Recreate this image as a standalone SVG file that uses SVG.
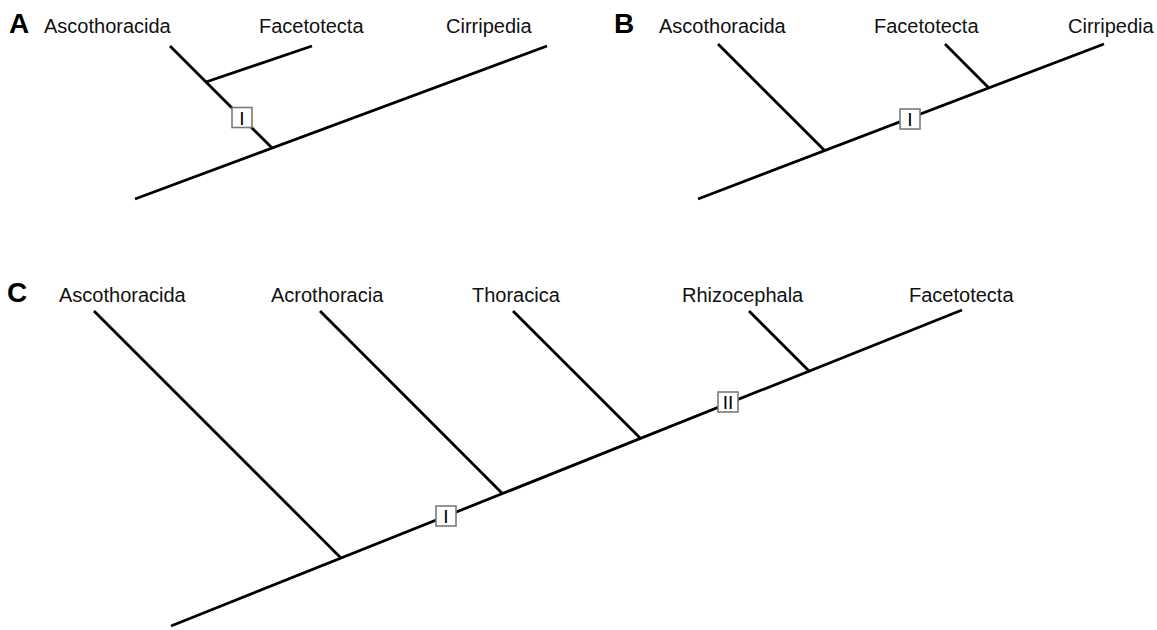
<svg xmlns="http://www.w3.org/2000/svg" width="1157" height="630" viewBox="0 0 1157 630">
<style>
.lbl{font-family:"Liberation Sans",Arial,sans-serif;font-size:20px;fill:#111}
.pl{font-family:"Liberation Sans",Arial,sans-serif;font-size:28px;font-weight:bold;fill:#000}
.br{stroke:#000;stroke-width:2.8;fill:none;stroke-linecap:butt}
.box{fill:#fff;stroke:#7a7a7a;stroke-width:1.6}
.bt{font-family:"Liberation Sans",Arial,sans-serif;font-size:19px;fill:#000;text-anchor:middle}
</style>
<rect width="1157" height="630" fill="#fff"/>
<g id="connectors">
  <!-- Panel A -->
  <line class="br" x1="135" y1="199" x2="547" y2="46"/>
  <line class="br" x1="170" y1="46" x2="272.1" y2="148.1"/>
  <line class="br" x1="206" y1="82" x2="312" y2="46"/>
  <!-- Panel B -->
  <line class="br" x1="698" y1="199" x2="1104" y2="44"/>
  <line class="br" x1="718" y1="44" x2="824.6" y2="150.6"/>
  <line class="br" x1="945" y1="44" x2="988.9" y2="87.9"/>
  <!-- Panel C -->
  <line class="br" x1="171" y1="626" x2="962" y2="310"/>
  <line class="br" x1="94" y1="311" x2="340.7" y2="557.7"/>
  <line class="br" x1="320" y1="311" x2="502.4" y2="493.4"/>
  <line class="br" x1="513" y1="311" x2="640.6" y2="438.6"/>
  <line class="br" x1="749" y1="311" x2="809.5" y2="371.5"/>
</g>
<g id="panelA">
  <text class="pl" x="9" y="33">A</text>
  <g id="A-ascothoracida"><text class="lbl" x="44" y="33">Ascothoracida</text></g>
  <g id="A-facetotecta"><text class="lbl" x="259" y="33">Facetotecta</text></g>
  <g id="A-cirripedia"><text class="lbl" x="446" y="33">Cirripedia</text></g>
  <g id="A-markI"><rect class="box" x="232" y="107.5" width="20" height="20"/><text class="bt" x="242" y="124.5">I</text></g>
</g>
<g id="panelB">
  <text class="pl" x="614" y="33">B</text>
  <g id="B-ascothoracida"><text class="lbl" x="659" y="33">Ascothoracida</text></g>
  <g id="B-facetotecta"><text class="lbl" x="874" y="33">Facetotecta</text></g>
  <g id="B-cirripedia"><text class="lbl" x="1068" y="33">Cirripedia</text></g>
  <g id="B-markI"><rect class="box" x="900" y="109" width="20" height="20"/><text class="bt" x="910" y="126">I</text></g>
</g>
<g id="panelC">
  <text class="pl" x="7" y="302">C</text>
  <g id="C-ascothoracida"><text class="lbl" x="59" y="302">Ascothoracida</text></g>
  <g id="C-acrothoracia"><text class="lbl" x="271" y="302">Acrothoracia</text></g>
  <g id="C-thoracica"><text class="lbl" x="472" y="302">Thoracica</text></g>
  <g id="C-rhizocephala"><text class="lbl" x="682" y="302">Rhizocephala</text></g>
  <g id="C-facetotecta"><text class="lbl" x="909" y="302">Facetotecta</text></g>
  <g id="C-markI"><rect class="box" x="436" y="506" width="20" height="20"/><text class="bt" x="446" y="523">I</text></g>
  <g id="C-markII"><rect class="box" x="718" y="392" width="20" height="20"/><text class="bt" x="728" y="409">II</text></g>
</g>
</svg>
